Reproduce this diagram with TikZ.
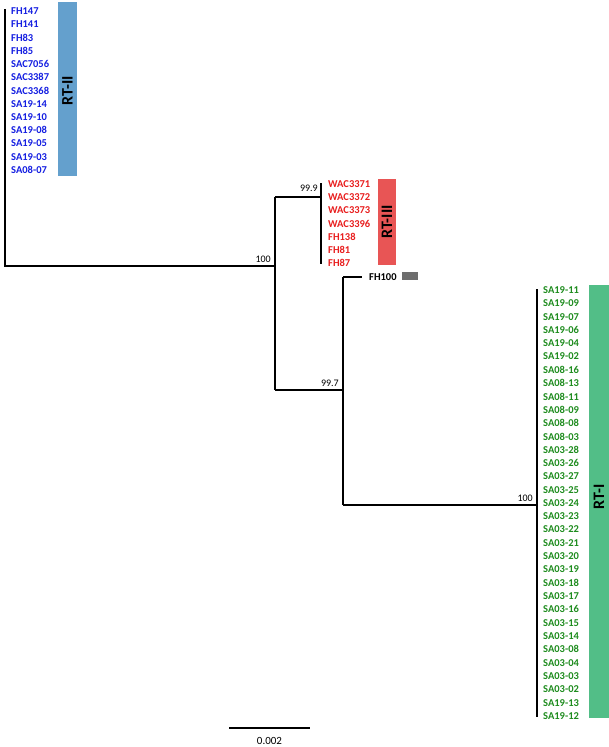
\documentclass[tikz,border=0pt]{standalone}
\usepackage{fontspec}
\setmainfont{Carlito}
\definecolor{labblue}{RGB}{20,30,225}
\definecolor{labred}{RGB}{232,30,30}
\definecolor{labgreen}{RGB}{30,140,30}
\definecolor{barblue}{RGB}{100,160,205}
\definecolor{barred}{RGB}{232,85,85}
\definecolor{bargreen}{RGB}{82,190,135}
\definecolor{bargrey}{RGB}{110,110,110}
\begin{document}
\begin{tikzpicture}[x=1pt,y=-1pt,
  branch/.style={line width=1.3pt,black},
  leaf/.style={anchor=west,inner sep=1.5pt,font=\fontsize{10.5}{10.5}\selectfont\bfseries},
  boot/.style={font=\fontsize{10}{10}\selectfont,inner sep=1pt},
  barlab/.style={rotate=90,font=\fontsize{16}{16}\selectfont\bfseries,inner sep=0pt}]
\useasboundingbox (0,0) rectangle (609,747);
% bars
\fill[barblue] (58,2) rectangle (77,176);
\node[barlab] (rt2) at (67.5,91) {RT-II};
\fill[barred] (378,179) rectangle (396,265);
\node[barlab] (rt3) at (387,222) {RT-III};
\fill[bargreen] (589,285) rectangle (609,718);
\node[barlab] (rt1) at (599,497) {RT-I};
\fill[bargrey] (402,272) rectangle (418,280);
% coordinates of tree
\coordinate (bT) at (5,9);
\coordinate (root) at (5,266);
\coordinate (n1) at (275,266);
\coordinate (n1t) at (275,197);
\coordinate (n1b) at (275,390);
\coordinate (rM) at (321,197);
\coordinate (rT) at (321,183);
\coordinate (rB) at (321,264);
\coordinate (n2) at (343,390);
\coordinate (n2t) at (343,277);
\coordinate (n2b) at (343,505);
\coordinate (fhE) at (362,277);
\coordinate (gM) at (537,505);
\coordinate (gT) at (537,289);
\coordinate (gB) at (537,717);
% branches
\draw[branch] (bT) -- (root) -- (n1);
\draw[branch] (n1t) -- (n1b);
\draw[branch] (n1t) -- (rM);
\draw[branch] (rT) -- (rB);
\draw[branch] (n1b) -- (n2);
\draw[branch] (n2t) -- (n2b);
\draw[branch] (n2t) -- (fhE);
\draw[branch] (n2b) -- (gM);
\draw[branch] (gT) -- (gB);
% bootstrap
\node[boot,anchor=south east] (b100a) at (272,264) {100};
\node[boot,anchor=south east] (b999) at (319,193) {99.9};
\node[boot,anchor=south east] (b997) at (340,388) {99.7};
\node[boot,anchor=south east] (b100b) at (534,503) {100};
% blue leaves
\foreach \t [count=\i] in {FH147,FH141,FH83,FH85,SAC7056,SAC3387,SAC3368,SA19-14,SA19-10,SA19-08,SA19-05,SA19-03,SA08-07}
  \node[leaf,text=labblue] (bl\i) at (9.5,{11+(\i-1)*13.25}) {\t};
% red leaves
\foreach \t [count=\i] in {WAC3371,WAC3372,WAC3373,WAC3396,FH138,FH81,FH87}
  \node[leaf,text=labred] (rl\i) at (326.5,{184+(\i-1)*13.2}) {\t};
% FH100
\node[leaf,text=black] (fh100) at (367.5,277) {FH100};
% green leaves
\foreach \t [count=\i] in {SA19-11,SA19-09,SA19-07,SA19-06,SA19-04,SA19-02,SA08-16,SA08-13,SA08-11,SA08-09,SA08-08,SA08-03,SA03-28,SA03-26,SA03-27,SA03-25,SA03-24,SA03-23,SA03-22,SA03-21,SA03-20,SA03-19,SA03-18,SA03-17,SA03-16,SA03-15,SA03-14,SA03-08,SA03-04,SA03-03,SA03-02,SA19-13,SA19-12}
  \node[leaf,text=labgreen] (gl\i) at (541.5,{290+(\i-1)*13.31}) {\t};
% scale bar
\coordinate (sL) at (229,728);
\coordinate (sR) at (310,728);
\draw[line width=1.1pt] (sL) -- (sR);
\node[font=\fontsize{11}{11}\selectfont,inner sep=0pt] (scale) at (269.5,741) {0.002};
\end{tikzpicture}
\end{document}
